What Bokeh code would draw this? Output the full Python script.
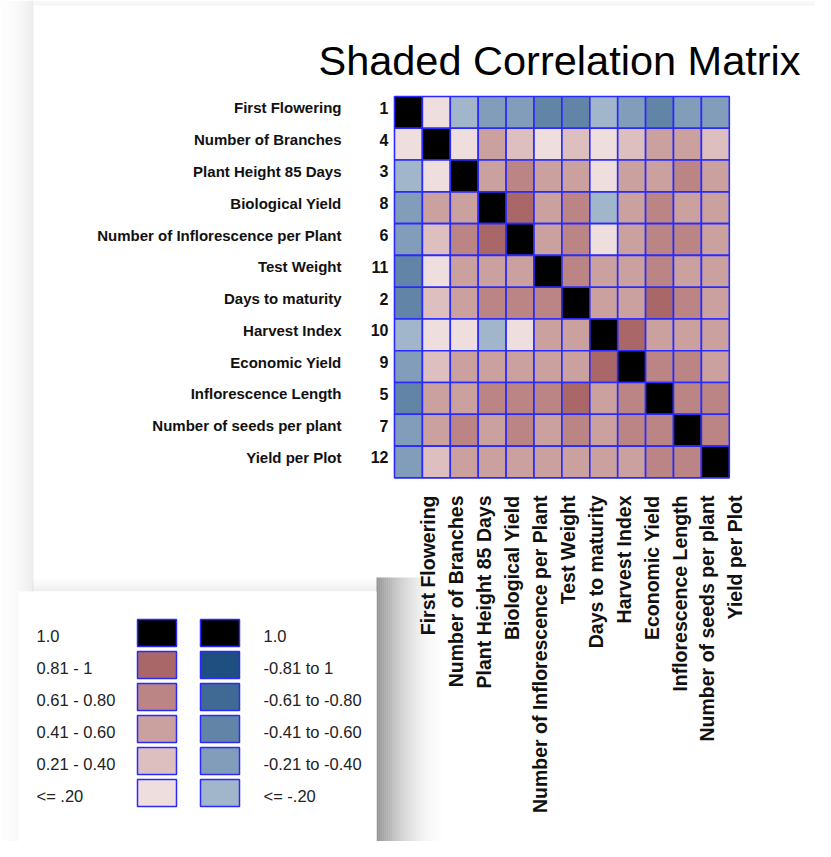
from bokeh.plotting import figure
from bokeh.models import Range1d, Label
from bokeh.core.properties import value
from bokeh.embed import file_html
from bokeh.resources import INLINE

# ---------------- data ----------------
title_text = "Shaded Correlation Matrix"

variables = ["First Flowering", "Number of Branches", "Plant Height 85 Days",
             "Biological Yield", "Number of Inflorescence per Plant", "Test Weight",
             "Days to maturity", "Harvest Index", "Economic Yield",
             "Inflorescence Length", "Number of seeds per plant", "Yield per Plot"]
var_ids = ["1", "4", "3", "8", "6", "11", "2", "10", "9", "5", "7", "12"]

corr = [
    [1.00, 0.10, -0.10, -0.30, -0.30, -0.50, -0.50, -0.10, -0.30, -0.50, -0.30, -0.30],
    [0.10, 1.00, 0.10, 0.50, 0.30, 0.10, 0.30, 0.10, 0.30, 0.50, 0.50, 0.30],
    [-0.10, 0.10, 1.00, 0.50, 0.70, 0.50, 0.50, 0.10, 0.50, 0.50, 0.70, 0.50],
    [-0.30, 0.50, 0.50, 1.00, 0.90, 0.50, 0.70, -0.10, 0.50, 0.70, 0.50, 0.50],
    [-0.30, 0.30, 0.70, 0.90, 1.00, 0.50, 0.70, 0.10, 0.50, 0.70, 0.70, 0.50],
    [-0.50, 0.10, 0.50, 0.50, 0.50, 1.00, 0.70, 0.50, 0.50, 0.70, 0.50, 0.50],
    [-0.50, 0.30, 0.50, 0.70, 0.70, 0.70, 1.00, 0.50, 0.50, 0.90, 0.70, 0.50],
    [-0.10, 0.10, 0.10, -0.10, 0.10, 0.50, 0.50, 1.00, 0.90, 0.50, 0.50, 0.50],
    [-0.30, 0.30, 0.50, 0.50, 0.50, 0.50, 0.50, 0.90, 1.00, 0.70, 0.70, 0.50],
    [-0.50, 0.50, 0.50, 0.70, 0.70, 0.70, 0.90, 0.50, 0.70, 1.00, 0.70, 0.70],
    [-0.30, 0.50, 0.70, 0.50, 0.70, 0.50, 0.70, 0.50, 0.70, 0.70, 1.00, 0.70],
    [-0.30, 0.30, 0.50, 0.50, 0.50, 0.50, 0.50, 0.50, 0.50, 0.70, 0.70, 1.00],
]

pos_labels = ["1.0", "0.81 - 1", "0.61 - 0.80", "0.41 - 0.60", "0.21 - 0.40", "<= .20"]
neg_labels = ["1.0", "-0.81 to 1", "-0.61 to -0.80", "-0.41 to -0.60", "-0.21 to -0.40", "<= -.20"]

# ---------------- styles ----------------
DIAG = "#000000"
POS_COLORS = ["#EEDEDE", "#DDBFBF", "#CBA1A0", "#BA8584", "#A96867"]   # <=.20 ... 0.81-1
NEG_COLORS = ["#A1B5CB", "#819DBA", "#6184A7", "#406A94", "#1F4F80"]   # <=-.20 ... -0.81
EDGE = "#2a2aff"
SANS = "'Liberation Sans', Arial, sans-serif"


def shade(v):
    if v >= 0.999:
        return DIAG
    a = abs(v)
    k = 0 if a <= 0.20 else 1 if a <= 0.40 else 2 if a <= 0.60 else 3 if a <= 0.80 else 4
    return POS_COLORS[k] if v >= 0 else NEG_COLORS[k]


# layout (picture pixel coordinates)
MX0, MY0 = 394.0, 96.0
CW, CH = 27.9, 31.78
n = len(variables)
W, H = 815, 841

p = figure(width=W, height=H, x_range=Range1d(0, W), y_range=Range1d(H, 0),
           x_axis_type=None, y_axis_type=None, toolbar_location=None,
           output_backend="svg", min_border=0, outline_line_color=None,
           background_fill_color="white", border_fill_color="white")
p.grid.visible = False

# ---- page shadow (left and top) ----
steps = 33
p.quad(left=list(range(steps)), right=[i + 1 for i in range(steps)],
       top=[0] * steps, bottom=[H] * steps, fill_color="black",
       fill_alpha=[0.01 + 0.07 * (i / steps) ** 2 for i in range(steps)], line_color=None)
ts = 5
p.quad(left=[steps] * ts, right=[W] * ts, top=list(range(ts)), bottom=[i + 1 for i in range(ts)],
       fill_color="black", fill_alpha=[0.02 + 0.03 * (i / ts) for i in range(ts)], line_color=None)

# ---- legend box shadow ----
LX0, LX1, LY0, LY1 = 18, 376, 591, H
sw = 37
p.quad(left=[LX1 + 2 * i for i in range(sw)], right=[LX1 + 2 * i + 2 for i in range(sw)],
       top=[LY0 - 14] * sw, bottom=[LY1] * sw, fill_color="black",
       fill_alpha=[0.42 * (1 - i / sw) ** 2.2 for i in range(sw)], line_color=None)
st = 16
p.quad(left=[LX0 + 14] * st, right=[LX1] * st,
       top=[LY0 - i - 1 for i in range(st)], bottom=[LY0 - i for i in range(st)],
       fill_color="black", fill_alpha=[0.07 * (1 - i / st) ** 1.5 for i in range(st)],
       line_color=None)
p.quad(left=[LX0], right=[LX1], top=[LY0], bottom=[LY1], fill_color="white", line_color=None)

# ---- matrix ----
xs, ys, cols = [], [], []
for i in range(n):
    for j in range(n):
        xs.append(MX0 + (j + 0.5) * CW)
        ys.append(MY0 + (i + 0.5) * CH)
        cols.append(shade(corr[i][j]))
p.rect(x=xs, y=ys, width=CW, height=CH, fill_color=cols, line_color=EDGE, line_width=1.6)

# row labels
ry = [MY0 + (i + 0.5) * CH - 4.5 for i in range(n)]
p.text(x=[341] * n, y=ry, text=variables, text_align="right", text_baseline="middle",
       text_font=value(SANS), text_font_style="bold", text_font_size="15px", text_color="#111111")
p.text(x=[388] * n, y=ry, text=var_ids, text_align="right", text_baseline="middle",
       text_font=value(SANS), text_font_style="bold", text_font_size="16px", text_color="#111111")

# column labels (rotated)
cx = [MX0 + (j + 0.5) * CW + 20 for j in range(n)]
p.text(x=cx, y=[495] * n, text=variables, angle=1.5707963, text_align="right",
       text_baseline="middle", text_font=value(SANS), text_font_style="bold",
       text_font_size="19.5px", text_color="#111111")

# title
p.add_layout(Label(x=559, y=60, text=title_text, text_align="center", text_baseline="middle",
                   text_font=SANS, text_font_size="41.5px", text_color="black"))

# ---- legend ----
m = len(pos_labels)
SY0, SP, SH, SWD = 619, 32, 27, 39
sy = [SY0 + k * SP + SH / 2 for k in range(m)]
leg_pos_cols = [DIAG] + POS_COLORS[::-1]
leg_neg_cols = [DIAG] + NEG_COLORS[::-1]
p.rect(x=[137 + SWD / 2] * m, y=sy, width=SWD, height=SH, fill_color=leg_pos_cols,
       line_color=EDGE, line_width=1.5)
p.rect(x=[200 + SWD / 2] * m, y=sy, width=SWD, height=SH, fill_color=leg_neg_cols,
       line_color=EDGE, line_width=1.5)
p.text(x=[36] * m, y=[v + 2.5 for v in sy], text=pos_labels, text_align="left",
       text_baseline="middle", text_font=value(SANS), text_font_size="16.5px", text_color="#222222")
p.text(x=[263] * m, y=[v + 2.5 for v in sy], text=neg_labels, text_align="left",
       text_baseline="middle", text_font=value(SANS), text_font_size="16.5px", text_color="#222222")

open("out.html", "w").write(file_html(p, INLINE))
